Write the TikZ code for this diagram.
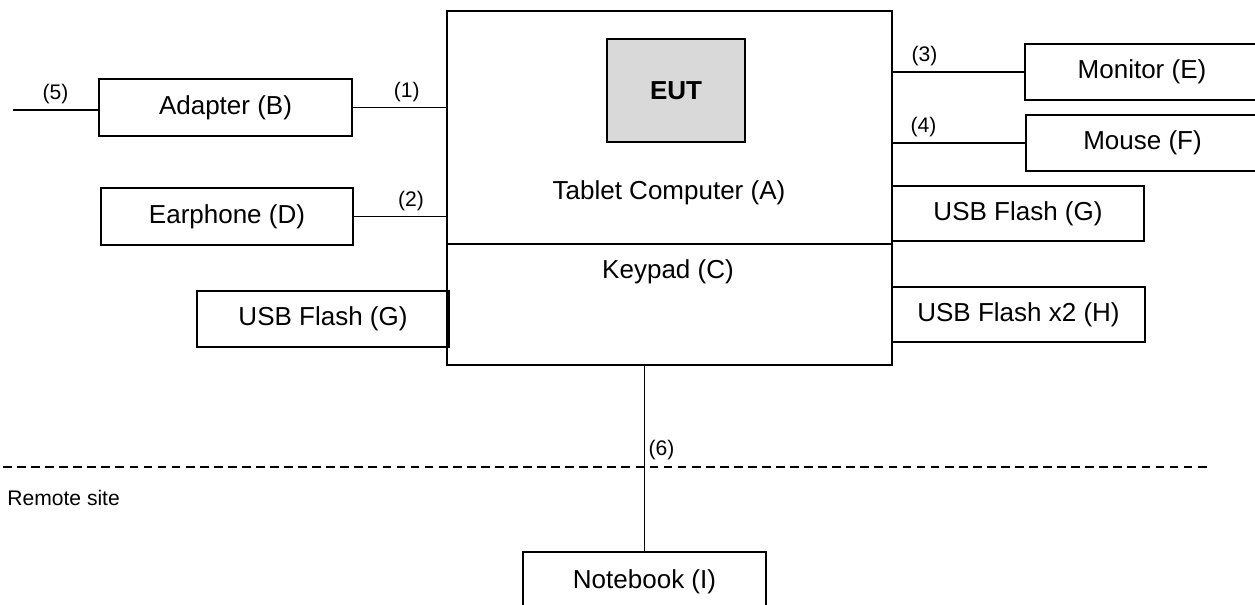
\documentclass[tikz,border=0pt]{standalone}
\usepackage{fontspec}
\setmainfont{Liberation Sans}
\definecolor{eutgray}{HTML}{D9D9D9}
\newcommand\bigtxt{\fontsize{14.8}{18}\selectfont}
\newcommand\smalltxt{\fontsize{12}{14}\selectfont}
\tikzset{
  box/.style={draw,line width=0.9pt,inner sep=0pt,font=\bigtxt},
  sz/.style 2 args={minimum width=#1*0.02cm,minimum height=#2*0.02cm},
  lbl/.style={font=\smalltxt,inner sep=3pt},
  wire/.style={line width=0.7pt}
}
\begin{document}
\begin{tikzpicture}[x=0.02cm,y=-0.02cm]
  \useasboundingbox (0,0) rectangle (1255,605);
  \clip (0,0) rectangle (1255,605);
  % unit under test
  \node[box,line width=1.2pt,sz={445}{233}] (tab) at (669.5,127.5) {};
  \node[box,line width=1.2pt,sz={445}{121}] (key) at (669.5,304.5) {};
  \node[box,fill=eutgray,sz={138}{103},font=\bigtxt\bfseries] (eut) at (676,90.5) {EUT};
  \node[font=\bigtxt] (tabtxt) at (669,193) {Tablet Computer (A)};
  \node[font=\bigtxt] (keytxt) at (668,272) {Keypad (C)};
  % support units
  \node[box,sz={253}{57}] (adapter) at (225.5,107.5) {Adapter (B)};
  \node[box,sz={252}{57}] (earphone) at (227,216.5) {Earphone (D)};
  \node[box,sz={252}{56}] (usbL) at (323,319) {USB Flash (G)};
  \node[box,sz={234}{56}] (monitor) at (1142,72) {Monitor (E)};
  \node[box,sz={233}{56}] (mouse) at (1142.5,143) {Mouse (F)};
  \node[box,sz={252}{55}] (usbG) at (1018,213.5) {USB Flash (G)};
  \node[box,sz={253}{55}] (usbH) at (1018.5,314.5) {USB Flash x2 (H)};
  \node[box,sz={243}{60}] (notebook) at (644.5,582) {Notebook (I)};
  % cables
  \coordinate (mains) at (13,110);
  \draw[wire] (mains) -- node[lbl,above] (c5) {(5)} (mains -| adapter.west);
  \draw[wire] (adapter.east) -- node[lbl,above,pos=.58] (c1) {(1)} (adapter.east -| tab.west);
  \draw[wire] (earphone.east) -- node[lbl,above,pos=.62] (c2) {(2)} (earphone.east -| tab.west);
  \draw[wire] (monitor.west -| tab.east) -- node[lbl,above,pos=.24] (c3) {(3)} (monitor.west);
  \draw[wire] (mouse.west -| tab.east) -- node[lbl,above,pos=.23] (c4) {(4)} (mouse.west);
  \draw[wire] (notebook.north |- key.south) -- node[lbl,above right,pos=.53,inner sep=2pt] (c6) {(6)} (notebook.north);
  % remote site border
  \coordinate (dl) at (3,467);
  \coordinate (dr) at (1207,467);
  \draw[line width=0.8pt,dash pattern=on 5pt off 3pt] (dl) -- (dr);
  \node[lbl,anchor=west,inner sep=0pt] (remote) at (7,498) {Remote site};
\end{tikzpicture}
\end{document}
